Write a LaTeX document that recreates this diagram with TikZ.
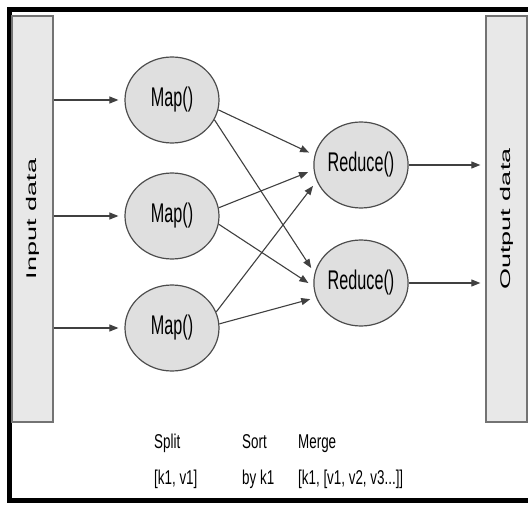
\documentclass[tikz,border=0pt]{standalone}
\usepackage{fontspec}
\setmainfont{Liberation Sans}
\usetikzlibrary{arrows.meta,shapes.geometric}
% condensed labels inside the process ellipses
\newcommand\proclabel[1]{\scalebox{0.6}[1]{\fontsize{27}{27}\selectfont #1}}
% condensed notes under the stages
\newcommand\notetext[1]{\scalebox{0.67}[1]{\fontsize{20}{20}\selectfont #1}}
% flattened, upright-reading side captions
\newcommand\sidetext[1]{\rotatebox{90}{\scalebox{1}[0.52]{\fontsize{27}{27}\selectfont #1}}}
\begin{document}
\begin{tikzpicture}[x=1pt,y=-1pt,
  bar/.style={draw=black!55, fill=gray!18, line width=1.3pt, inner sep=0pt,
    minimum width=41pt, minimum height=406pt},
  proc/.style={ellipse, draw=black!70, fill=gray!25, line width=1.2pt, inner sep=0pt,
    minimum width=94pt, minimum height=86pt},
  flow/.style={draw=black!75, line width=1.1pt,
    -{Triangle[length=9pt,width=7pt]}, shorten >=6pt},
  note/.style={inner sep=0pt, anchor=base west}]
\useasboundingbox (0,0) rectangle (528,508);
\fill[white] (0,0) rectangle (528,508);
% outer frame
\draw[line width=5pt] (9,10) rectangle (545,500);

% input and output stores
\node[bar] (input)  at (32.5,219) {};
\node[inner sep=0pt] (inlabel) at (input.center) {\sidetext{Input data}};
\node[bar] (output) at (506.5,219) {};
\node[inner sep=0pt] (outlabel) at (output.center) {\sidetext{Output data}};

% map and reduce workers
\node[proc] (m1) at (172,100) {\proclabel{Map()}};
\node[proc] (m2) at (172,216) {\proclabel{Map()}};
\node[proc] (m3) at (172,328) {\proclabel{Map()}};
\node[proc] (r1) at (361,165) {\proclabel{Reduce()}};
\node[proc] (r2) at (361,283) {\proclabel{Reduce()}};

% input splits
\draw[flow] (input.east |- m1) -- (m1);
\draw[flow] (input.east |- m2) -- (m2);
\draw[flow] (input.east |- m3) -- (m3);

% shuffle between map and reduce
\draw[flow] (m1.-12) -- (r1.168);
\draw[flow] (m1.-25) -- (r2.168);
\draw[flow] (m2.10)  -- (r1.186);
\draw[flow] (m2.-10) -- (r2.184);
\draw[flow] (m3.20)  -- (r1.200);
\draw[flow] (m3.5)   -- (r2.198);

% results
\draw[flow, shorten >=5pt] (r1) -- (output.west |- r1);
\draw[flow, shorten >=5pt] (r2) -- (output.west |- r2);

% stage notes
\node[note] (split1) at (154,448) {\notetext{Split}};
\node[note] (split2) at (154,484) {\notetext{[k1, v1]}};
\node[note] (sort1)  at (242,448) {\notetext{Sort}};
\node[note] (sort2)  at (242,484) {\notetext{by k1}};
\node[note] (merge1) at (298,448) {\notetext{Merge}};
\node[note] (merge2) at (298,484) {\notetext{[k1, [v1, v2, v3...]]}};
\end{tikzpicture}
\end{document}
